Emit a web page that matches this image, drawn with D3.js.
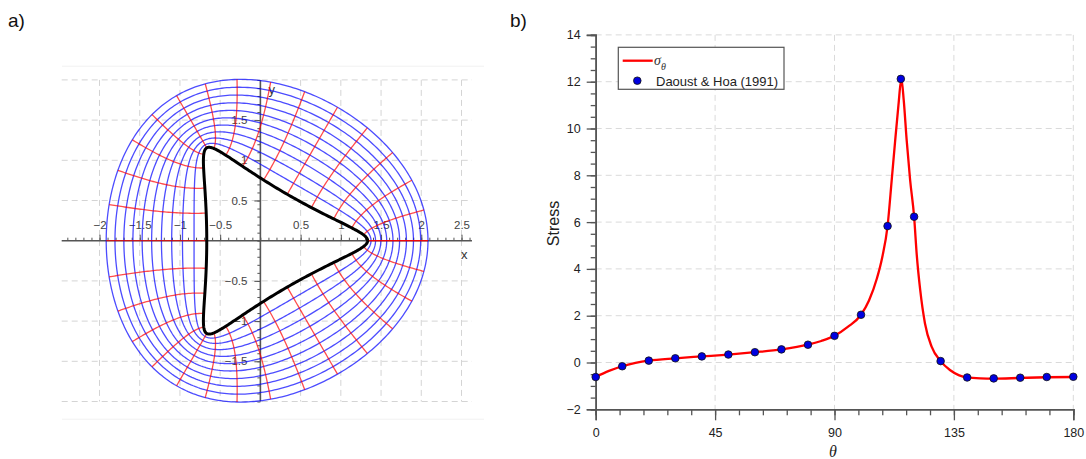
<!DOCTYPE html>
<html><head><meta charset="utf-8">
<script src="https://cdn.jsdelivr.net/npm/d3@7"></script>
<style>
body{margin:0;background:#fff;}
svg{display:block;font-family:"Liberation Sans",Arial,sans-serif;}
</style>
</head><body>
<svg id="c" width="1086" height="459"></svg>
<script>
// ================= DATA =================
// Panel a: conformal map z = c0*ζ + c1*ζ^-2, ζ = ρ·e^{iθ}
const mapCoeffs = [1, 1/3];
const rhoLevels = [1.1, 1.2, 1.3, 1.4, 1.5, 1.6, 1.7, 1.8, 1.9, 2.0];
const thetaLevelsDeg = [0,12,24,36,48,60,72,84,96,108,120,132,144,156,168,180,192,204,216,228,240,252,264,276,288,300,312,324,336,348,360];
const boundaryRho = [1];
const xTicksA = [-2, -1.5, -1, -0.5, 0.5, 1, 1.5, 2, 2.5];
const yTicksA = [-1.5, -1, -0.5, 0.5, 1, 1.5];
const xGridA = [-2, -1.5, -1, -0.5, 0.5, 1, 1.5, 2, 2.5];
const yGridA = [-2, -1.5, -1, -0.5, 0.5, 1, 1.5, 2];

// Panel b: stress around the hole
const dotTheta  = [0, 10, 20, 30, 40, 50, 60, 70, 80, 90, 100, 110, 115, 120, 130, 140, 150, 160, 170, 180];
const dotStress = [-0.62, -0.16, 0.08, 0.18, 0.26, 0.34, 0.44, 0.56, 0.76, 1.14, 2.04, 5.83, 12.12, 6.23, 0.06, -0.64, -0.68, -0.65, -0.62, -0.61];
const curveTheta  = [0, 5, 10, 15, 20, 30, 40, 50, 60, 70, 80, 85, 90, 95, 100, 103, 106, 108, 110, 111.6, 112.8, 114.1, 115.2, 116.1, 117.2, 118.5, 120, 121, 122.3, 124.1, 126.6, 130, 133.5, 137, 140, 145, 150, 160, 170, 180];
const curveStress = [-0.62, -0.36, -0.16, -0.02, 0.08, 0.18, 0.26, 0.34, 0.44, 0.56, 0.76, 0.92, 1.14, 1.52, 2.04, 2.65, 3.6, 4.5, 5.83, 7.85, 9.4, 11.0, 12.12, 11.2, 9.5, 7.8, 6.23, 4.6, 3.1, 1.67, 0.68, 0.06, -0.32, -0.55, -0.64, -0.68, -0.69, -0.66, -0.63, -0.62];
const xTicksB = [0, 45, 90, 135, 180];
const yTicksB = [-2, 0, 2, 4, 6, 8, 10, 12, 14];
const legendLabels = ["σ", "θ", "Daoust & Hoa (1991)"];

// ================= DRAW =================
const svg = d3.select("#c");

// panel letters
svg.append("text").attr("x", 8).attr("y", 27).attr("font-size", 19).attr("fill", "#111").text("a)");
svg.append("text").attr("x", 510).attr("y", 27).attr("font-size", 19).attr("fill", "#111").text("b)");

// ---------- Panel a ----------
const xA = d3.scaleLinear().domain([-2, 2.5]).range([99.5, 461.5]);
const yA = d3.scaleLinear().domain([-2, 2]).range([401.5, 79.9]);
const gA = svg.append("g");

// faint frame lines
[-2.22, 2.17].forEach(v => gA.append("line")
  .attr("x1", 62).attr("x2", 484).attr("y1", yA(v)).attr("y2", yA(v))
  .attr("stroke", "#f1f1f1").attr("stroke-width", 1));

// dashed grid
gA.selectAll(".gx").data(xGridA).join("line")
  .attr("x1", d => xA(d)).attr("x2", d => xA(d))
  .attr("y1", yA(2)).attr("y2", yA(-2))
  .attr("stroke", "#d4d4d4").attr("stroke-dasharray", "6,4");
gA.selectAll(".gy").data(yGridA).join("line")
  .attr("x1", xA(-2.47)).attr("x2", xA(2.63))
  .attr("y1", d => yA(d)).attr("y2", d => yA(d))
  .attr("stroke", "#d4d4d4").attr("stroke-dasharray", "6,4");

// axes (drawn under the curves)
const axCol = "#555";
gA.append("line").attr("x1", xA(-2.47)).attr("x2", xA(2.63)).attr("y1", yA(0)).attr("y2", yA(0))
  .attr("stroke", axCol).attr("stroke-width", 1.6);
gA.append("line").attr("x1", xA(0)).attr("x2", xA(0)).attr("y1", yA(2)).attr("y2", yA(-2))
  .attr("stroke", axCol).attr("stroke-width", 1.6);

const minorX = d3.range(-24, 27).map(i => i / 10);
const minorY = d3.range(-20, 21).map(i => i / 10);
const xAxisA = d3.axisTop(xA).tickValues(minorX).tickSize(3).tickFormat("");
const gxa = gA.append("g").attr("transform", `translate(0,${yA(0)})`).call(xAxisA);
gxa.select(".domain").remove();
gxa.selectAll("line").attr("stroke", axCol);
const xAxisAMaj = d3.axisTop(xA).tickValues(xTicksA).tickSize(6).tickPadding(6).tickFormat(d3.format("~g"));
const gxa2 = gA.append("g").attr("transform", `translate(0,${yA(0)})`).call(xAxisAMaj);
gxa2.select(".domain").remove();
gxa2.selectAll("line").attr("stroke", axCol);
gxa2.selectAll("text").attr("font-size", 11.5).attr("fill", "#444").attr("font-family", "Liberation Sans, Arial");

const yAxisA = d3.axisLeft(yA).tickValues(minorY).tickSize(3).tickFormat("");
const gya = gA.append("g").attr("transform", `translate(${xA(0)},0)`).call(yAxisA);
gya.select(".domain").remove();
gya.selectAll("line").attr("stroke", axCol);
const yAxisAMaj = d3.axisLeft(yA).tickValues(yTicksA).tickSize(6).tickPadding(7).tickFormat(d3.format("~g"));
const gya2 = gA.append("g").attr("transform", `translate(${xA(0)},0)`).call(yAxisAMaj);
gya2.select(".domain").remove();
gya2.selectAll("line").attr("stroke", axCol);
gya2.selectAll("text").attr("font-size", 11.5).attr("fill", "#444").attr("font-family", "Liberation Sans, Arial");

gA.append("text").attr("x", xA(0) + 8).attr("y", yA(1.82)).attr("font-size", 13).attr("fill", "#333").text("y");
gA.append("text").attr("x", 461).attr("y", 259).attr("font-size", 13).attr("fill", "#333").text("x");

// conformal map
function mapZ(rho, thDeg) {
  const t = thDeg * Math.PI / 180;
  const c0 = mapCoeffs[0], c1 = mapCoeffs[1];
  return [c0 * rho * Math.cos(t) + c1 * Math.pow(rho, -2) * Math.cos(-2 * t),
          c0 * rho * Math.sin(t) + c1 * Math.pow(rho, -2) * Math.sin(-2 * t)];
}
const lineA = d3.line().x(d => xA(d[0])).y(d => yA(d[1]));
const thSamples = d3.range(0, 360.5, 1);
const rhoSamples = d3.range(1, 2.0001, 0.02);

gA.selectAll(".rho").data(rhoLevels).join("path")
  .attr("d", r => lineA(thSamples.map(t => mapZ(r, t))))
  .attr("fill", "none").attr("stroke", "#0000ff").attr("stroke-opacity", 0.7).attr("stroke-width", 1.3);
gA.selectAll(".th").data(thetaLevelsDeg).join("path")
  .attr("d", t => lineA(rhoSamples.map(r => mapZ(r, t))))
  .attr("fill", "none").attr("stroke", "#ff0000").attr("stroke-opacity", 0.7).attr("stroke-width", 1.3);
gA.selectAll(".bd").data(boundaryRho).join("path")
  .attr("d", r => lineA(thSamples.map(t => mapZ(r, t))))
  .attr("fill", "none").attr("stroke", "#000").attr("stroke-width", 3).attr("stroke-linejoin", "round");

// ---------- Panel b ----------
const xB = d3.scaleLinear().domain([0, 180]).range([595.7, 1073.3]);
const yB = d3.scaleLinear().domain([-2, 14]).range([409.3, 34.9]);
const gB = svg.append("g");

// grid
gB.selectAll(".gbx").data(xTicksB.filter(d => d > 0)).join("line")
  .attr("x1", d => xB(d)).attr("x2", d => xB(d)).attr("y1", yB(14)).attr("y2", yB(-2))
  .attr("stroke", "#dadada").attr("stroke-dasharray", "6,4");
gB.selectAll(".gby").data(yTicksB.filter(d => d > -2)).join("line")
  .attr("x1", xB(0)).attr("x2", xB(180)).attr("y1", d => yB(d)).attr("y2", d => yB(d))
  .attr("stroke", "#dadada").attr("stroke-dasharray", "6,4");

// axes
const minorXB = d3.range(0, 181, 9);
const minorYB = d3.range(-2, 14.01, 0.5);
const bCol = "#555";
const gxb1 = gB.append("g").attr("transform", `translate(0,${yB(-2)})`)
  .call(d3.axisBottom(xB).tickValues(minorXB).tickSize(6).tickFormat(""));
const gxb2 = gB.append("g").attr("transform", `translate(0,${yB(-2)})`)
  .call(d3.axisBottom(xB).tickValues(xTicksB).tickSize(11).tickPadding(8));
const gyb1 = gB.append("g").attr("transform", `translate(${xB(0)},0)`)
  .call(d3.axisLeft(yB).tickValues(minorYB).tickSize(5).tickFormat(""));
const gyb2 = gB.append("g").attr("transform", `translate(${xB(0)},0)`)
  .call(d3.axisLeft(yB).tickValues(yTicksB).tickSize(9).tickPadding(6));
[gxb1, gxb2, gyb1, gyb2].forEach(g => {
  g.select(".domain").attr("stroke", bCol).attr("stroke-width", 1.6);
  g.selectAll("line").attr("stroke", bCol).attr("stroke-width", 1.3);
  g.selectAll("text").attr("font-size", 12.5).attr("fill", "#222").attr("font-family", "Liberation Sans, Arial");
});

// axis titles
gB.append("text").attr("transform", "translate(559,223.5) rotate(-90)")
  .attr("text-anchor", "middle").attr("font-size", 16).attr("fill", "#222").text("Stress");
gB.append("text").attr("x", 833).attr("y", 457).attr("text-anchor", "middle")
  .attr("font-size", 16).attr("font-style", "italic").attr("font-family", "Liberation Serif, serif")
  .attr("fill", "#222").text("θ");

// curve
const curvePts = curveTheta.map((t, i) => [t, curveStress[i]]);
gB.append("path").datum(curvePts)
  .attr("d", d3.line().x(d => xB(d[0])).y(d => yB(d[1])).curve(d3.curveMonotoneX))
  .attr("fill", "none").attr("stroke", "#ff0000").attr("stroke-width", 2.3);

// dots
gB.selectAll(".dot").data(dotTheta.map((t, i) => [t, dotStress[i]])).join("circle")
  .attr("cx", d => xB(d[0])).attr("cy", d => yB(d[1])).attr("r", 3.8)
  .attr("fill", "#0000e0").attr("stroke", "#111").attr("stroke-width", 0.8);

// legend
const lg = gB.append("g");
lg.append("rect").attr("x", 618.3).attr("y", 47.3).attr("width", 165.7).attr("height", 42)
  .attr("fill", "#fff").attr("stroke", "#555").attr("stroke-width", 1.2);
lg.append("line").attr("x1", 622.7).attr("x2", 652.7).attr("y1", 60.7).attr("y2", 60.7)
  .attr("stroke", "#ff0000").attr("stroke-width", 2.3);
const st = lg.append("text").attr("x", 654).attr("y", 65).attr("fill", "#333")
  .attr("font-family", "Liberation Serif, serif").attr("font-style", "italic");
st.append("tspan").attr("font-size", 14).text(legendLabels[0]);
st.append("tspan").attr("font-size", 10).attr("dy", 5).text(legendLabels[1]);
lg.append("circle").attr("cx", 637.3).attr("cy", 80.7).attr("r", 3.8)
  .attr("fill", "#0000e0").attr("stroke", "#111").attr("stroke-width", 0.8);
lg.append("text").attr("x", 656).attr("y", 86).attr("font-size", 13).attr("fill", "#222").text(legendLabels[2]);
</script>
</body></html>
